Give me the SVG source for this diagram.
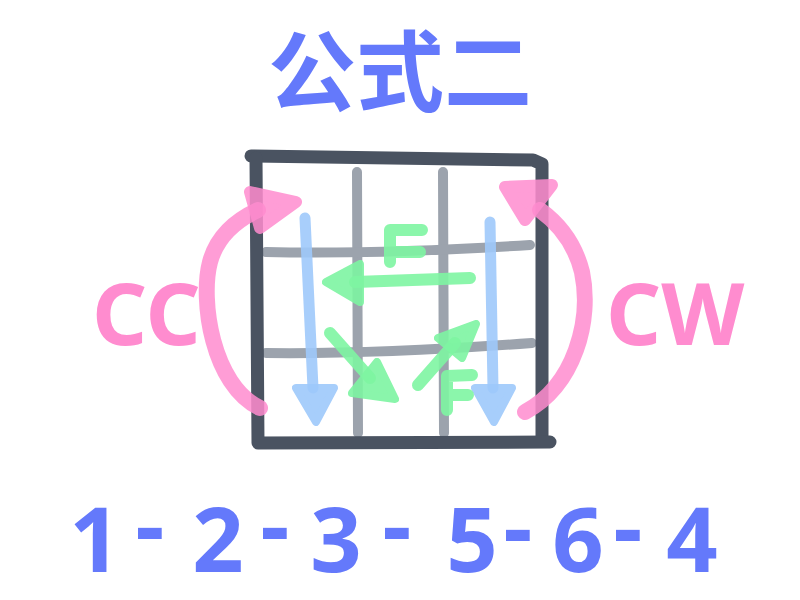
<svg xmlns="http://www.w3.org/2000/svg" width="800" height="600" viewBox="0 0 800 600">
<style>
.frame{fill:none;stroke:#4a5361;stroke-width:13;stroke-linecap:round;stroke-linejoin:round}
.grid{fill:none;stroke:#9ca3ad;stroke-width:10;stroke-linecap:round}
.blue{fill:none;stroke:#9ec9fb;stroke-width:11;stroke-linecap:round;opacity:0.9}
.bluehead{fill:#9ec9fb;stroke:#9ec9fb;stroke-width:8;stroke-linejoin:round;opacity:0.9}
.green{fill:none;stroke:#7ef5a2;stroke-width:12;stroke-linecap:round;opacity:0.9}
.greenhead{fill:#7ef5a2;stroke:#7ef5a2;stroke-width:8;stroke-linejoin:round;opacity:0.9}
.pink{fill:none;stroke:#ff8ccf;stroke-width:16;stroke-linecap:round;opacity:0.85}
.pinkhead{fill:#ff8ccf;stroke:#ff8ccf;stroke-width:12;stroke-linejoin:round;opacity:0.85}
.title{font-family:"Noto Sans CJK SC","Noto Sans",sans-serif;font-weight:bold;fill:#6479fb}
.num{font-family:"Noto Sans","Liberation Sans",sans-serif;font-weight:bold;fill:#6479fb;text-anchor:middle}
.lab{font-family:"Noto Sans","Liberation Sans",sans-serif;font-weight:bold;fill:#ff8ccf}
</style>
<g id="title"><text class="title" x="400" y="104" font-size="88" text-anchor="middle">公式二</text></g>
<g id="grid">
<path class="grid" d="M357,172 L358,433"/>
<path class="grid" d="M443,172 L444,433"/>
<path class="grid" d="M266,252 C350,254 450,250 530,245"/>
<path class="grid" d="M266,353 C350,354 450,349 532,343"/>
<path class="frame" d="M251,156 L533,160 L542,164 L542,440"/>
<path class="frame" d="M256,158 L258,443 L550,442"/>
</g>
<g id="connectors">
<path class="blue" d="M305,218 L313,388"/>
<polygon class="bluehead" points="296,388 334,388 316,422"/>
<path class="blue" d="M490,222 L493,388"/>
<polygon class="bluehead" points="475,388 512,388 494,422"/>
<path class="green" d="M470,278 L355,282"/>
<polygon class="greenhead" points="326,282 360,264 360,302"/>
<path class="green" d="M330,333 L370,378"/>
<polygon class="greenhead" points="352,393 377,362 395,399"/>
<path class="green" d="M418,385 L455,343"/>
<polygon class="greenhead" points="438,338 476,324 462,358"/>
<path class="pink" d="M260,408 C212,385 200,300 210,262 C216,240 232,222 258,210"/>
<polygon class="pinkhead" points="250,192 296,202 260,228"/>
<path class="pink" d="M525,412 C575,385 592,320 582,272 C576,248 562,226 540,210"/>
<polygon class="pinkhead" points="505,187 552,185 525,220"/>
</g>
<g id="f-top">
<path class="green" d="M390,230 L422,230 M390,230 L390,262 M390,252 L420,252"/>
</g>
<g id="f-bottom">
<path class="green" d="M447,376 L472,375 M447,376 L447,410 M447,395 L468,395"/>
</g>
<g id="label-cc"><text class="lab" x="92" y="345" font-size="86">CC</text></g>
<g id="label-cw"><text class="lab" x="606" y="345" font-size="86">CW</text></g>
<g id="sequence">
<text class="num" font-size="90" y="572" x="95">1</text>
<text class="num" font-size="90" y="558" x="150">-</text>
<text class="num" font-size="90" y="572" x="218">2</text>
<text class="num" font-size="90" y="558" x="275">-</text>
<text class="num" font-size="90" y="572" x="336">3</text>
<text class="num" font-size="90" y="558" x="397">-</text>
<text class="num" font-size="90" y="572" x="472">5</text>
<text class="num" font-size="90" y="560" x="518">-</text>
<text class="num" font-size="90" y="572" x="578">6</text>
<text class="num" font-size="90" y="560" x="628">-</text>
<text class="num" font-size="90" y="572" x="692">4</text>
</g>
</svg>
